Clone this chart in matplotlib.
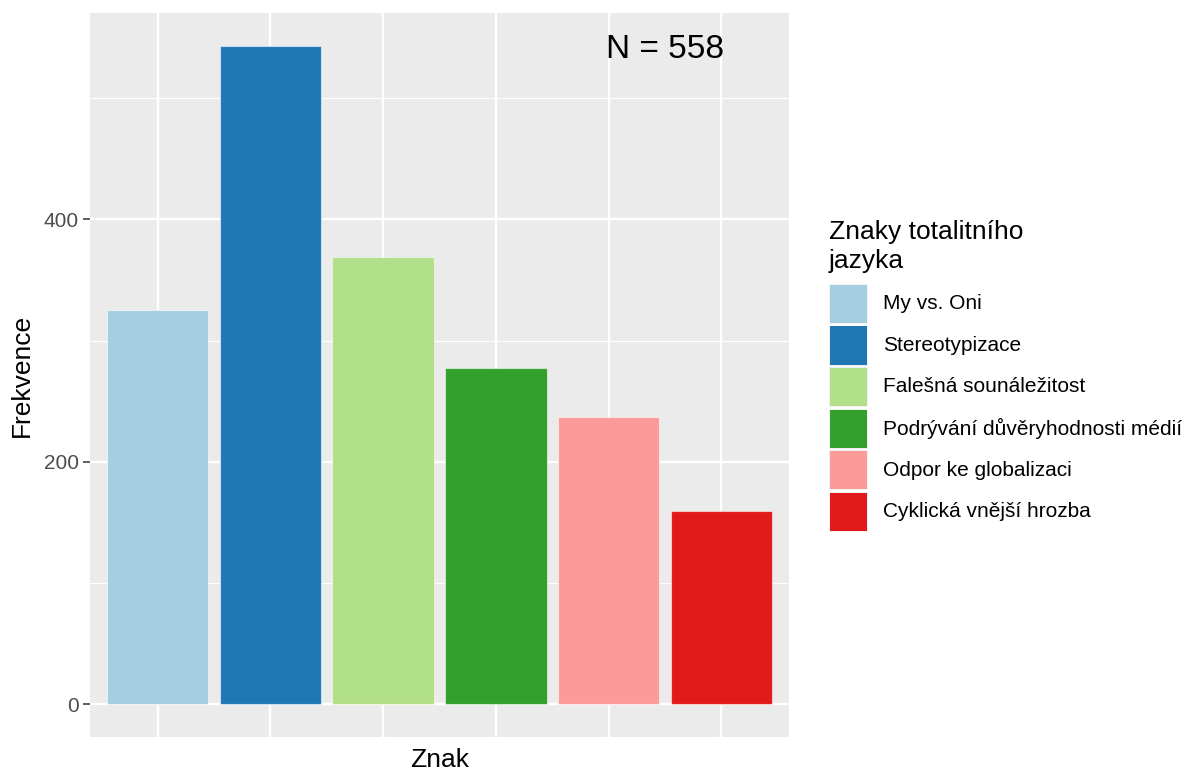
import matplotlib
matplotlib.use("Agg")
import matplotlib.pyplot as plt
from matplotlib.patches import Rectangle

categories = ["My vs. Oni", "Stereotypizace", "Falešná sounáležitost",
              "Podrývání důvěryhodnosti médií", "Odpor ke globalizaci",
              "Cyklická vnější hrozba"]
values = [325, 543, 369, 277, 237, 159]
colors = ["#A6CEE3", "#1F78B4", "#B2DF8A", "#33A02C", "#FB9A99", "#E31A1C"]
y_ticks = [0, 200, 400]
y_minor = [100, 300, 500]
annotation = "N = 558"
legend_title = "Znaky totalitního\njazyka"

plt.rcParams['font.family'] = ['Liberation Sans', 'DejaVu Sans']

W, H = 1187, 771
fig = plt.figure(figsize=(W / 100, H / 100), dpi=100)
left, right, top, bottom = 90, 789, 13.3, 737
ax = fig.add_axes([left / W, 1 - bottom / H, (right - left) / W, (bottom - top) / H])
ax.set_facecolor("#EBEBEB")

x = list(range(1, len(values) + 1))
ax.bar(x, values, width=0.9, color=colors, edgecolor=(1, 1, 1, 0.55), linewidth=0.8, zorder=3)

ymax = max(values)
ax.set_xlim(0.4, len(values) + 0.6)
ax.set_ylim(-0.05 * ymax, ymax * 1.05)

ax.set_yticks(y_ticks)
ax.set_yticks(y_minor, minor=True)
ax.set_xticks(x)
ax.set_xticklabels([""] * len(x))
ax.grid(which="major", color="white", linewidth=1.7, zorder=1)
ax.grid(which="minor", axis="y", color="white", linewidth=0.85, zorder=1)
ax.tick_params(axis="x", length=0)
ax.tick_params(axis="y", which="major", length=5, width=1.1, color="#333333",
               labelsize=15, labelcolor="#4D4D4D", pad=3)
ax.tick_params(axis="y", which="minor", length=0)
for s in ax.spines.values():
    s.set_visible(False)

ax.set_ylabel("Frekvence", fontsize=19, va="center")
ax.yaxis.set_label_coords((22 - left) / (right - left), 0.5)
ax.set_xlabel("Znak", fontsize=19, va="center")
ax.xaxis.set_label_coords(0.5, -(760 - bottom) / (bottom - top))

ax.text(5.5, 540, annotation, fontsize=24, ha="center", va="center", zorder=4)

# legend (manual, ggplot-like)
fig.text(829 / W, 1 - 220 / H, legend_title, fontsize=19, ha="left", va="top",
         linespacing=1.27)
key_top0 = 284
key_h = 41.5
for i, (cat, col) in enumerate(zip(categories, colors)):
    yt = key_top0 + i * key_h
    fig.patches.append(Rectangle((829 / W, 1 - (yt + 40) / H), 39 / W, 40 / H,
                                 transform=fig.transFigure, facecolor="#F2F2F2",
                                 edgecolor="none"))
    fig.patches.append(Rectangle((830 / W, 1 - (yt + 39) / H), 37 / W, 38 / H,
                                 transform=fig.transFigure, facecolor=col,
                                 edgecolor="none"))
    fig.text(883 / W, 1 - (yt + 20) / H, cat, fontsize=15, ha="left", va="center")

fig.savefig("out.png", dpi=100, facecolor="white")
